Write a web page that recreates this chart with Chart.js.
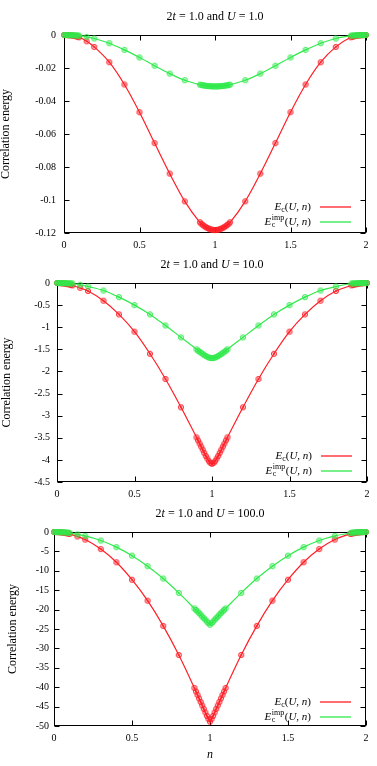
<!DOCTYPE html>
<html>
<head>
<meta charset="utf-8">
<script src="https://cdn.jsdelivr.net/npm/chart.js@4.4.0/dist/chart.umd.min.js"></script>
<style>
  html, body { margin: 0; padding: 0; background: #fff; }
  #wrap { position: relative; width: 377px; height: 766px; }
  canvas { position: absolute; left: 0; }
</style>
</head>
<body>
<div id="wrap">
  <canvas id="c1" width="377" height="255" style="top:0;width:377px;height:255px"></canvas>
  <canvas id="c2" width="377" height="250" style="top:255px;width:377px;height:250px"></canvas>
  <canvas id="c3" width="377" height="261" style="top:505px;width:377px;height:261px"></canvas>
</div>
<script>
// ---------- data ----------
const nGrid = [0, 0.01, 0.02, 0.03, 0.04, 0.05, 0.06, 0.07, 0.08, 0.09, 0.1,
  0.15, 0.2, 0.3, 0.4, 0.5, 0.6, 0.7, 0.8,
  0.9, 0.91, 0.92, 0.93, 0.94, 0.95, 0.96, 0.97, 0.98, 0.99, 1.0,
  1.01, 1.02, 1.03, 1.04, 1.05, 1.06, 1.07, 1.08, 1.09, 1.1,
  1.2, 1.3, 1.4, 1.5, 1.6, 1.7, 1.8,
  1.9, 1.91, 1.92, 1.93, 1.94, 1.95, 1.96, 1.97, 1.98, 1.99, 2.0];

// 2t = 1.0, U = 1.0
const ecU1 = [0, -0.00001, -0.00004, -0.0001, -0.00018, -0.0003, -0.0004, -0.0006, -0.0008, -0.0011, -0.0014,
  -0.0038, -0.0072, -0.0165, -0.0300, -0.0468, -0.0655, -0.0840, -0.1008,
  -0.1135, -0.1144, -0.1152, -0.1159, -0.1165, -0.1170, -0.1174, -0.1178, -0.1180, -0.1182, -0.1182,
  -0.1182, -0.1180, -0.1178, -0.1174, -0.1170, -0.1165, -0.1159, -0.1152, -0.1144, -0.1135,
  -0.1008, -0.0840, -0.0655, -0.0468, -0.0300, -0.0165, -0.0072,
  -0.0014, -0.0011, -0.0008, -0.0006, -0.0004, -0.0003, -0.00018, -0.0001, -0.00004, -0.00001, 0];
const impU1 = [0, -0.00001, -0.00002, -0.00004, -0.00006, -0.0001, -0.00013, -0.00018, -0.00023, -0.0003, -0.0004,
  -0.0011, -0.0021, -0.0050, -0.0090, -0.0136, -0.0186, -0.0234, -0.0274,
  -0.0301, -0.0303, -0.0305, -0.0306, -0.0308, -0.0309, -0.0310, -0.0310, -0.0311, -0.0311, -0.0311,
  -0.0311, -0.0311, -0.0310, -0.0310, -0.0309, -0.0308, -0.0306, -0.0305, -0.0303, -0.0301,
  -0.0274, -0.0234, -0.0186, -0.0136, -0.0090, -0.0050, -0.0021,
  -0.0004, -0.0003, -0.00023, -0.00018, -0.00013, -0.0001, -0.00006, -0.00004, -0.00002, -0.00001, 0];

// 2t = 1.0, U = 10.0
const ecU10 = [0, -0.0005, -0.002, -0.005, -0.009, -0.014, -0.02, -0.027, -0.035, -0.044, -0.055,
  -0.11, -0.18, -0.40, -0.71, -1.10, -1.60, -2.17, -2.81,
  -3.49, -3.56, -3.63, -3.70, -3.77, -3.84, -3.91, -3.97, -4.03, -4.07, -4.09,
  -4.07, -4.03, -3.97, -3.91, -3.84, -3.77, -3.70, -3.63, -3.56, -3.49,
  -2.81, -2.17, -1.60, -1.10, -0.71, -0.40, -0.18,
  -0.055, -0.044, -0.035, -0.027, -0.02, -0.014, -0.009, -0.005, -0.002, -0.0005, 0];
const impU10 = [0, -0.0001, -0.0004, -0.001, -0.0017, -0.0027, -0.004, -0.0055, -0.007, -0.009, -0.011,
  -0.04, -0.08, -0.17, -0.32, -0.50, -0.71, -0.96, -1.23,
  -1.50, -1.53, -1.555, -1.58, -1.605, -1.63, -1.65, -1.67, -1.685, -1.695, -1.70,
  -1.695, -1.685, -1.67, -1.65, -1.63, -1.605, -1.58, -1.555, -1.53, -1.50,
  -1.23, -0.96, -0.71, -0.50, -0.32, -0.17, -0.08,
  -0.011, -0.009, -0.007, -0.0055, -0.004, -0.0027, -0.0017, -0.001, -0.0004, -0.0001, 0];

// 2t = 1.0, U = 100.0
const ecU100 = [0, -0.005, -0.02, -0.045, -0.08, -0.125, -0.18, -0.245, -0.32, -0.405, -0.5,
  -1.15, -1.95, -4.4, -7.8, -12.3, -17.7, -24.2, -31.7,
  -40.2, -41.1, -42.0, -42.9, -43.8, -44.7, -45.6, -46.5, -47.4, -48.2, -48.9,
  -48.2, -47.4, -46.5, -45.6, -44.7, -43.8, -42.9, -42.0, -41.1, -40.2,
  -31.7, -24.2, -17.7, -12.3, -7.8, -4.4, -1.95,
  -0.5, -0.405, -0.32, -0.245, -0.18, -0.125, -0.08, -0.045, -0.02, -0.005, 0];
const impU100 = [0, -0.002, -0.008, -0.018, -0.03, -0.05, -0.07, -0.095, -0.12, -0.15, -0.25,
  -0.6, -1.0, -2.2, -3.9, -6.1, -8.8, -12.0, -15.7,
  -19.7, -20.1, -20.5, -20.9, -21.3, -21.8, -22.2, -22.6, -23.1, -23.5, -23.9,
  -23.5, -23.1, -22.6, -22.2, -21.8, -21.3, -20.9, -20.5, -20.1, -19.7,
  -15.7, -12.0, -8.8, -6.1, -3.9, -2.2, -1.0,
  -0.25, -0.15, -0.12, -0.095, -0.07, -0.05, -0.03, -0.018, -0.008, -0.002, 0];

const xTicks = [0, 0.5, 1, 1.5, 2];
const uLabels = ['1.0', '10.0', '100.0'];

const RED = '#ff1e26';
const GREEN = '#30ea4c';
const SERIF = '"Liberation Serif", "DejaVu Serif", serif';

// ---------- point marker (circle with a cross) ----------
function marker(color, fill) {
  const c = document.createElement('canvas');
  c.width = 8; c.height = 8;
  const g = c.getContext('2d');
  g.strokeStyle = color; g.fillStyle = fill; g.lineWidth = 0.9;
  g.beginPath(); g.arc(4, 4, 2.6, 0, Math.PI * 2); g.fill(); g.stroke();
  g.lineWidth = 0.7;
  g.beginPath(); g.moveTo(2.4, 2.4); g.lineTo(5.6, 5.6); g.moveTo(5.6, 2.4); g.lineTo(2.4, 5.6); g.stroke();
  return c;
}
const redMark = marker(RED, 'rgba(255,30,38,0.22)');
const greenMark = marker(GREEN, 'rgba(48,234,76,0.22)');

// ---------- rich text (italic / sub / sup) ----------
function partFont(p, size) {
  const s = (p.sub || p.sup) ? Math.round(size * 0.72) : size;
  return (p.it ? 'italic ' : '') + s + 'px ' + SERIF;
}
function richWidth(ctx, parts, size) {
  let w = 0;
  parts.forEach(p => {
    if (p.stack) {
      ctx.font = partFont({ sub: true }, size);
      w += Math.max(ctx.measureText(p.stack[0]).width, ctx.measureText(p.stack[1]).width) + 1;
    } else {
      ctx.font = partFont(p, size);
      w += ctx.measureText(p.t).width;
    }
  });
  return w;
}
function drawRich(ctx, parts, x, y, size) {
  ctx.textBaseline = 'middle';
  ctx.textAlign = 'left';
  parts.forEach(p => {
    if (p.stack) {
      ctx.font = partFont({ sub: true }, size);
      ctx.fillText(p.stack[0], x + 0.5, y - 4);
      ctx.fillText(p.stack[1], x + 0.5, y + 3);
      x += Math.max(ctx.measureText(p.stack[0]).width, ctx.measureText(p.stack[1]).width) + 1;
    } else {
      ctx.font = partFont(p, size);
      const dy = p.sub ? 3 : (p.sup ? -4 : 0);
      ctx.fillText(p.t, x, y + dy);
      x += ctx.measureText(p.t).width;
    }
  });
}

const legendRows = [
  { color: RED, parts: [{ t: 'E', it: true }, { t: 'c', sub: true }, { t: '(' }, { t: 'U', it: true }, { t: ', ' }, { t: 'n', it: true }, { t: ')' }] },
  { color: GREEN, parts: [{ t: 'E', it: true }, { stack: ['imp', 'c'] }, { t: '(' }, { t: 'U', it: true }, { t: ', ' }, { t: 'n', it: true }, { t: ')' }] }
];

// ---------- frame, inward ticks, title and legend ----------
const decor = {
  id: 'decor',
  beforeDatasetsDraw(chart) {
    const { ctx, chartArea: a, scales: { x, y } } = chart;
    const L = Math.round(a.left) + 0.5, R = Math.round(a.right) - 0.5;
    const T = Math.round(a.top) + 0.5, B = Math.round(a.bottom) - 0.5;
    ctx.save();
    ctx.strokeStyle = '#000';
    ctx.lineWidth = 1;
    ctx.beginPath();
    x.ticks.forEach(t => {
      const px = Math.round(x.getPixelForValue(t.value)) + 0.5;
      ctx.moveTo(px, B); ctx.lineTo(px, B - 5);
      ctx.moveTo(px, T); ctx.lineTo(px, T + 5);
    });
    y.ticks.forEach(t => {
      const py = Math.round(y.getPixelForValue(t.value)) + 0.5;
      ctx.moveTo(L, py); ctx.lineTo(L + 5, py);
      ctx.moveTo(R, py); ctx.lineTo(R - 5, py);
    });
    ctx.stroke();
    ctx.strokeRect(L, T, R - L, B - T);
    ctx.restore();
  },
  afterDraw(chart, args, opts) {
    const { ctx, chartArea: a } = chart;
    ctx.save();
    ctx.fillStyle = '#000';
    // title
    const title = [{ t: '2' }, { t: 't', it: true }, { t: ' = 1.0 and ' }, { t: 'U', it: true }, { t: ' = ' + opts.u }];
    const tw = richWidth(ctx, title, 12);
    drawRich(ctx, title, (a.left + a.right) / 2 - tw / 2, a.top - 18, 12);
    // legend
    legendRows.forEach((row, i) => {
      const yy = a.bottom - opts.legendBottom + i * 15;
      const w = richWidth(ctx, row.parts, 11);
      ctx.fillStyle = '#000';
      drawRich(ctx, row.parts, a.right - 55 - w, yy, 11);
      ctx.strokeStyle = row.color;
      ctx.lineWidth = 1.3;
      ctx.beginPath();
      ctx.moveTo(a.right - 46, yy); ctx.lineTo(a.right - 15, yy);
      ctx.stroke();
    });
    ctx.restore();
  }
};

function makeChart(id, ec, imp, cfg) {
  const pts = arr => nGrid.map((n, i) => ({ x: n, y: arr[i] }));
  new Chart(document.getElementById(id), {
    type: 'line',
    data: {
      datasets: [
        {
          label: 'Ec', data: pts(ec), order: 1,
          borderColor: RED, borderWidth: 1.2,
          pointStyle: redMark, pointRadius: 3,
          cubicInterpolationMode: 'monotone', clip: false
        },
        {
          label: 'Ec imp', data: pts(imp), order: 0,
          borderColor: GREEN, borderWidth: 1.2,
          pointStyle: greenMark, pointRadius: 3,
          cubicInterpolationMode: 'monotone', clip: false
        }
      ]
    },
    options: {
      responsive: false,
      animation: false,
      events: [],
      layout: { padding: { top: cfg.padTop, right: cfg.padRight, left: 0, bottom: 0 } },
      plugins: {
        legend: { display: false },
        tooltip: { enabled: false },
        decor: { u: cfg.u, legendBottom: cfg.legendBottom }
      },
      scales: {
        x: {
          type: 'linear', min: 0, max: 2,
          afterBuildTicks: s => { s.ticks = xTicks.map(v => ({ value: v })); },
          afterFit: s => { s.height = cfg.xHeight; },
          grid: { display: false, drawTicks: false },
          border: { display: false },
          ticks: { padding: 6, color: '#000', font: { family: SERIF, size: 10 }, callback: v => String(v) },
          title: cfg.xTitle ? { display: true, text: 'n', color: '#000', font: { family: SERIF, size: 12, style: 'italic' }, padding: { top: 0, bottom: 4 } } : { display: false }
        },
        y: {
          min: cfg.yMin, max: 0,
          afterFit: s => { s.width = cfg.yWidth; },
          grid: { display: false, drawTicks: false },
          border: { display: false },
          ticks: {
            stepSize: cfg.step, maxTicksLimit: 20, padding: cfg.tickPad, color: '#000',
            font: { family: SERIF, size: 10 },
            callback: v => String(parseFloat(v.toFixed(4)))
          },
          title: { display: true, text: 'Correlation energy', color: '#000', font: { family: SERIF, size: 12 }, padding: { top: cfg.titlePad, bottom: 0 } }
        }
      }
    },
    plugins: [decor]
  });
}

makeChart('c1', ecU1, impU1, { u: uLabels[0], padTop: 35, padRight: 11, yWidth: 64, xHeight: 22, yMin: -0.12, step: 0.02, tickPad: 8, titlePad: -1, legendBottom: 26 });
makeChart('c2', ecU10, impU10, { u: uLabels[1], padTop: 28, padRight: 10, yWidth: 57, xHeight: 23, yMin: -4.5, step: 0.5, tickPad: 7, titlePad: 0, legendBottom: 26 });
makeChart('c3', ecU100, impU100, { u: uLabels[2], padTop: 27, padRight: 11, yWidth: 54, xHeight: 40, yMin: -50, step: 5, tickPad: 5, titlePad: 6, legendBottom: 24, xTitle: true });
</script>
</body>
</html>
